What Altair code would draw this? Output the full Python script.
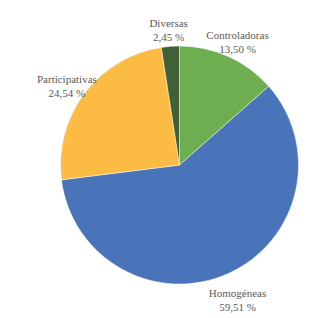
import altair as alt
import pandas as pd

categories = ["Controladoras", "Homogéneas", "Participativas", "Diversas"]
values = [13.50, 59.51, 24.54, 2.45]
colors = ["#6FAD51", "#4A74BA", "#FCBB43", "#3F6138"]

labels = [f"{c}\n{v:.2f}".replace(".", ",") + " %" for c, v in zip(categories, values)]
df = pd.DataFrame({
    "categoria": categories,
    "valor": values,
    "orden": list(range(len(categories))),
    "etiqueta": labels,
})

base = alt.Chart(df).encode(
    theta=alt.Theta("valor:Q", stack=True),
    order=alt.Order("orden:Q", sort="ascending"),
)

pie = base.mark_arc(outerRadius=119, stroke="white", strokeWidth=0.5).encode(
    color=alt.Color("categoria:N", scale=alt.Scale(domain=categories, range=colors), legend=None),
    x=alt.value(171.5),
    y=alt.value(157),
)

text = base.mark_text(
    radius=141, font="Liberation Serif", fontSize=11, color="#595959",
    lineBreak="\n", lineHeight=14, align="center", baseline="middle",
).encode(
    text="etiqueta:N",
    x=alt.value(171.5),
    y=alt.value(157),
)

chart = alt.layer(pie, text).properties(
    width=314, height=310,
    autosize=alt.AutoSizeParams(type="none"),
    padding=0,
).configure_view(stroke=None)

chart.save("out.html", embed_options={"renderer": "svg", "actions": False})
